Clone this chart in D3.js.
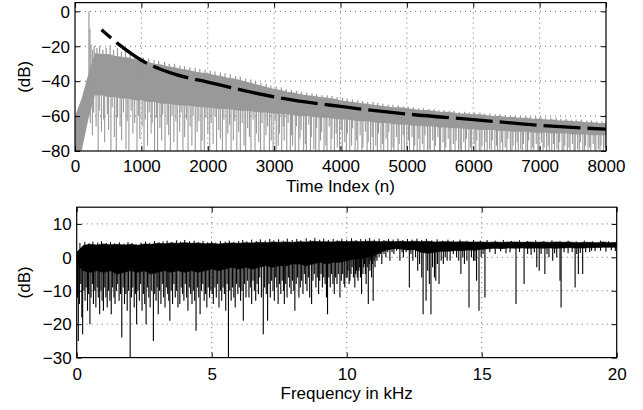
<!DOCTYPE html>
<html lang="en">
<head>
<meta charset="utf-8">
<title>Impulse response and frequency response</title>
<style>
  body { margin: 0; background: #fff; }
  svg { display: block; background: #fff; font-family: "Liberation Sans", Arial, Helvetica, sans-serif; }
  .grid line { stroke: #6a6a6a; stroke-width: 1; stroke-dasharray: 1,4; }
  .axis line { stroke: #000; stroke-width: 1; }
  .axis text { font-size: 17px; fill: #000; }
  .lbl { font-size: 17px; fill: #000; }
</style>
</head>
<body>
<script src="https://d3js.org/d3.v7.min.js"></script>
<script>
// ---------- top panel: decaying response, dB vs time index ----------
const timeStep = 100;   // samples between entries of timeHi / timeLo
// upper edge of the gray trace
const timeHi = [
  -60, -50, -36, -24, -24.5, -24.5, -25.5, -26, -26.5, -27.5,
  -28.5, -29, -30, -30.5, -31.5, -32, -33, -33.5, -34.5, -35,
  -35.5, -36.5, -37, -38, -38.5, -39.5, -40.5, -41.5, -42.5, -43.5,
  -44.5, -45, -46, -46.5, -47.5, -48, -48.5, -49, -49.5, -50,
  -51, -51.5, -52, -52.5, -53, -53.5, -54, -54.5, -55, -55,
  -55.5, -56, -56.5, -56.5, -57, -57.5, -57.5, -58, -58.5, -58.5,
  -59, -59, -59.5, -60, -60, -60.5, -60.5, -61, -61, -61.5,
  -61.5, -62, -62, -62.5, -62.5, -63, -63, -63.5, -63.5, -64,
  -64
];
// lower edge of the solid part of the gray trace
const timeLo = [
  -80, -80, -62, -48, -48, -49, -49, -50, -50, -51,
  -51, -52, -52, -53, -53, -53.5, -54, -54, -54.5, -55,
  -55, -55.5, -56, -56, -56.5, -57, -57, -57.5, -58, -58,
  -58.5, -59, -59, -59.5, -60, -60, -60.5, -61, -61, -61.5,
  -62, -62, -62.5, -63, -63, -63.5, -64, -64, -64.5, -65,
  -65, -65.5, -65.5, -66, -66, -66.5, -66.5, -67, -67, -67.5,
  -67.5, -68, -68, -68, -68.5, -68.5, -69, -69, -69, -69.5,
  -69.5, -69.5, -70, -70, -70, -70.5, -70.5, -70.5, -71, -71,
  -71
];
// single samples sticking out above the trace [n, dB]
const timePeaks = [
  [210, 0], [225, -10], [240, -19], [265, -22], [290, -20], [330, -21], [370, -20],
  [420, -22], [470, -21], [530, -19.5], [580, -22], [640, -21], [700, -23], [760, -22.5],
  [830, -24], [900, -25], [980, -26.5],
  [1030, -26.5], [1110, -27], [1190, -28], [1260, -28.5], [1350, -29], [1420, -30], [1500, -30],
  [1580, -31], [1650, -31.5], [1730, -32], [1810, -32.5], [1880, -33], [1960, -33.5], [2040, -34],
  [2110, -34.5], [2190, -35], [2260, -35.5], [2340, -36], [2420, -37], [2490, -37.5], [2570, -38.5],
  [2650, -39], [2720, -40], [2800, -41], [2880, -41.5], [2950, -42.5], [3030, -43], [3110, -43.5],
  [3180, -44.5], [3260, -45], [3340, -45.5], [3410, -46], [3490, -46.5], [3570, -47], [3640, -47.5],
  [3720, -48], [3800, -48], [3870, -48.5], [3950, -49], [4030, -49.5], [4100, -50], [4180, -50.5],
  [4260, -51], [4330, -51.5], [4410, -52], [4490, -52], [4560, -52.5], [4640, -53], [4720, -53.5],
  [4790, -53.5], [4870, -54], [4950, -54.5], [5020, -54.5], [5100, -55], [5180, -55.5], [5250, -55.5],
  [5330, -56], [5410, -56], [5480, -56.5], [5560, -56.5], [5640, -57], [5710, -57], [5790, -57.5],
  [5870, -57.5], [5940, -58], [6020, -58], [6100, -58], [6170, -58.5], [6250, -58.5], [6330, -59],
  [6400, -59], [6480, -59.5], [6560, -59.5], [6630, -60], [6710, -60], [6790, -60], [6860, -60.5],
  [6940, -60.5], [7020, -60.5], [7090, -61], [7170, -61], [7250, -61], [7320, -61.5], [7400, -61.5],
  [7480, -62], [7550, -62], [7630, -62], [7710, -62.5], [7780, -62.5], [7860, -63], [7940, -63]
];
// notches below the trace [n, dB]
const timeDips = [
  [230, -64], [262, -71], [281, -58], [318, -66], [349, -80], [366, -57], [398, -69], [431, -62],
  [447, -75], [488, -59], [506, -68], [541, -80], [560, -55], [593, -72], [622, -80], [641, -61],
  [679, -66], [702, -74], [731, -58], [768, -79], [787, -63], [812, -80], [846, -57], [871, -70],
  [899, -64], [934, -80], [958, -60], [976, -73], [1012, -66], [1040, -80], [1058, -62], [1093, -77],
  [1118, -58], [1147, -70], [1163, -64], [1199, -80], [1226, -61], [1244, -80], [1279, -67], [1305, -74],
  [1321, -59], [1356, -80], [1389, -65], [1411, -71], [1437, -80], [1462, -60], [1489, -75], [1520, -63],
  [1541, -80], [1577, -69], [1598, -58], [1626, -80], [1652, -72], [1681, -62], [1703, -80], [1735, -66],
  [1761, -77], [1779, -60], [1812, -80], [1840, -69], [1866, -63], [1897, -80], [1915, -74], [1948, -80],
  [1973, -61], [2001, -70], [2030, -80], [2052, -64], [2081, -76], [2110, -60], [2133, -80], [2165, -68],
  [2190, -73], [2221, -80], [2243, -62], [2276, -80], [2302, -70], [2329, -65], [2351, -80], [2385, -74],
  [2407, -63], [2438, -80], [2466, -69], [2491, -80], [2519, -64], [2547, -77], [2572, -80], [2601, -67],
  [2628, -72], [2651, -80], [2683, -62], [2712, -80], [2734, -70], [2768, -75], [2795, -80], [2818, -64],
  [2849, -80], [2877, -71], [2902, -66], [2930, -80], [2957, -74], [2985, -80],
  [3014, -63], [3031, -80], [3062, -77], [3080, -70], [3115, -80], [3139, -66], [3152, -74], [3190, -80],
  [3211, -64], [3245, -80], [3262, -71], [3279, -77], [3318, -80], [3336, -66], [3371, -80], [3390, -73],
  [3408, -68], [3444, -80], [3470, -76], [3486, -80], [3522, -65], [3547, -80], [3561, -72], [3598, -79],
  [3626, -80], [3641, -67], [3677, -80], [3699, -74], [3715, -69], [3752, -80], [3780, -77], [3796, -80],
  [3830, -66], [3856, -80], [3871, -73], [3909, -80], [3935, -70], [3952, -78], [3986, -80], [4011, -68],
  [4027, -80], [4064, -75], [4089, -80], [4104, -70], [4140, -80], [4167, -77], [4183, -67], [4220, -80],
  [4244, -74], [4260, -80], [4296, -71], [4323, -80], [4338, -78], [4375, -69], [4401, -80], [4417, -75],
  [4453, -80], [4478, -72], [4494, -80], [4531, -77], [4556, -80], [4572, -70], [4609, -80], [4634, -76],
  [4651, -80], [4687, -73], [4712, -80], [4728, -69], [4765, -80], [4791, -78], [4806, -80], [4843, -72],
  [4868, -80], [4884, -76], [4921, -80], [4946, -71], [4962, -80], [4999, -79], [5024, -74], [5040, -80],
  [5077, -72], [5102, -80], [5118, -77], [5155, -80], [5180, -73], [5196, -80], [5233, -76], [5258, -80],
  [5274, -71], [5311, -80], [5336, -79], [5352, -80], [5389, -74], [5414, -80], [5430, -77], [5467, -72],
  [5492, -80], [5508, -80], [5545, -75], [5570, -80], [5586, -78], [5623, -73], [5648, -80], [5664, -80],
  [5701, -76], [5726, -80], [5742, -74], [5779, -80], [5804, -79], [5820, -80], [5857, -75], [5882, -80],
  [5898, -73], [5935, -80], [5960, -78], [5976, -80], [6013, -76], [6038, -80], [6054, -74], [6091, -80],
  [6116, -80], [6132, -77], [6169, -80], [6194, -75], [6210, -80], [6247, -79], [6272, -80], [6288, -74],
  [6325, -80], [6350, -77], [6366, -80], [6403, -80], [6428, -75], [6444, -80], [6481, -78], [6506, -80],
  [6522, -73], [6559, -80], [6584, -80], [6600, -77], [6637, -80], [6662, -75], [6678, -80], [6715, -79],
  [6740, -80], [6756, -76], [6793, -80], [6818, -80], [6834, -74], [6871, -80], [6896, -78], [6912, -80],
  [6949, -76], [6974, -80], [6990, -80], [7027, -75], [7052, -80], [7068, -78], [7105, -80], [7130, -77],
  [7146, -80], [7183, -80], [7208, -76], [7224, -80], [7261, -79], [7286, -80], [7302, -75], [7339, -80],
  [7364, -80], [7380, -77], [7417, -80], [7442, -78], [7458, -80], [7495, -76], [7520, -80], [7536, -80],
  [7573, -79], [7598, -80], [7614, -75], [7651, -80], [7676, -80], [7692, -77], [7729, -80], [7754, -78],
  [7770, -80], [7807, -76], [7832, -80], [7848, -80], [7885, -79], [7910, -80], [7926, -77], [7963, -80],
  [7988, -78]
];
// dashed decay envelope
const envN  = [400, 680, 1000, 1500, 2000, 2500, 3000, 4000, 5000, 6000, 7000, 8000];
const envDb = [-10.5, -19.5, -28, -36, -40.5, -45, -49, -54.5, -58.8, -62, -65.3, -67.5];
const timeTicks = [0, 1000, 2000, 3000, 4000, 5000, 6000, 7000, 8000];
const timeDbTicks = [-80, -60, -40, -20, 0];

// ---------- bottom panel: magnitude response, dB vs kHz ----------
const freqStep = 0.25;  // kHz between entries of freqHi / freqLo
const freqHi = [
  1.5, 3.6, 3.9, 3.7, 4, 3.8, 3.9, 3.7, 3.9, 3.6,
  4, 3.9, 4.2, 4.1, 4.3, 4.2, 4.4, 4.2, 4.3, 4.1,
  4.2, 4, 4.2, 4.3, 4.2, 4.4, 4.3, 4.5, 4.4, 4.6,
  4.5, 4.6, 4.5, 4.7, 4.6, 4.8, 4.7, 4.7, 4.6, 4.8,
  4.7, 4.8, 4.7, 4.8, 4.8, 4.7, 4.8, 4.7, 4.8, 4.7,
  4.8, 4.7, 4.8, 4.6, 4.7, 4.7, 4.6, 4.7, 4.6, 4.6,
  4.6, 4.5, 4.6, 4.5, 4.6, 4.6, 4.5, 4.6, 4.5, 4.6,
  4.5, 4.6, 4.5, 4.6, 4.4, 4.5, 4.5, 4.4, 4.6, 4.4,
  4.5
];
const freqLo = [
  -2, -4, -4.5, -4, -4.5, -4, -5, -4.5, -4, -4.5,
  -4, -5, -4.5, -4, -4.5, -4, -4.5, -4, -4.5, -4,
  -3.5, -4, -3.5, -3, -3.5, -3, -3.5, -3, -2.5, -3,
  -2.5, -2.5, -2, -2, -2.5, -2, -1.5, -2, -1.5, -1.5,
  -1, -0.5, -0.5, 0, 0.5, 1.5, 2.2, 2.6, 2.5, 2.2,
  2.3, 1.5, 1.2, 1.5, 1.8, 1.8, 2, 2, 2.2, 2.1,
  2.4, 2.6, 2.7, 2.6, 2.8, 2.7, 2.8, 2.7, 2.8, 2.7,
  2.8, 2.7, 2.8, 2.9, 2.8, 2.8, 2.9, 2.9, 3, 3,
  3
];
// small spikes above the band [kHz, dB]
const freqPeaks = [
  [0.12, 4.3], [0.3, 4.6], [0.45, 4.2], [0.6, 4.7], [0.78, 4.4], [0.92, 4.8], [1.1, 4.3], [1.25, 4.6],
  [1.4, 4.2], [1.58, 4.5], [1.75, 4.1], [1.9, 4.6], [2.05, 4.3], [2.2, 4], [2.38, 4.4], [2.55, 4.7],
  [2.7, 4.3], [2.88, 4.9], [3.05, 4.5], [3.2, 4.8], [3.35, 5], [3.52, 4.6], [3.7, 5.1], [3.85, 4.7],
  [4, 5.2], [4.18, 4.8], [4.35, 5], [4.5, 4.6], [4.68, 4.9], [4.85, 4.5], [5, 4.8], [5.15, 4.4],
  [5.32, 4.9], [5.5, 4.7], [5.65, 5], [5.82, 4.6], [6, 4.9], [6.15, 5.2], [6.3, 4.8], [6.48, 5.3],
  [6.65, 4.9], [6.8, 5.4], [6.98, 5], [7.15, 5.5], [7.3, 5.1], [7.48, 5.4], [7.65, 5], [7.8, 5.6],
  [7.98, 5.2], [8.15, 5.5], [8.3, 5.1], [8.5, 5.7], [8.65, 5.2], [8.82, 5.8], [9, 5.3], [9.15, 5.6],
  [9.32, 5.2], [9.5, 5.5], [9.65, 5.1], [9.82, 5.6], [10, 5.3], [10.18, 5.7], [10.35, 5.2], [10.52, 5.5],
  [10.7, 5.4], [10.85, 5.8], [11.02, 5.3], [11.2, 5.6], [11.38, 5.2], [11.55, 5.5], [11.72, 5.3], [11.9, 5.6],
  [12.08, 5.2], [12.25, 5.5], [12.42, 5.3], [12.6, 5.6], [12.78, 5.2], [12.95, 5.5], [13.15, 5.1], [13.35, 5.4],
  [13.55, 5], [13.75, 5.3], [13.95, 5.1], [14.2, 5.3], [14.45, 5], [14.7, 5.2], [14.95, 5], [15.2, 5.2],
  [15.5, 5], [15.8, 5.2], [16.1, 4.9], [16.4, 5.1], [16.7, 4.9], [17, 5.1], [17.3, 4.9], [17.6, 5.1],
  [17.9, 4.9], [18.2, 5], [18.5, 4.8], [18.8, 5], [19.1, 4.8], [19.4, 5], [19.7, 4.8]
];
// notches [kHz, dB]
const freqDips = [
  [0.03, -12], [0.06, -25], [0.1, -14], [0.15, -8], [0.19, -18], [0.22, -23], [0.27, -10], [0.31, -13],
  [0.35, -9], [0.4, -16], [0.44, -11], [0.49, -20], [0.53, -12], [0.58, -8], [0.62, -14], [0.67, -10],
  [0.71, -15], [0.76, -9], [0.8, -12], [0.85, -17], [0.9, -10], [0.94, -13], [0.99, -16],
  [1.04, -9], [1.08, -12], [1.13, -15], [1.18, -10], [1.23, -13], [1.28, -17], [1.33, -9], [1.38, -12],
  [1.42, -14], [1.47, -10], [1.52, -8], [1.57, -13], [1.62, -11], [1.67, -24], [1.72, -9], [1.77, -14],
  [1.82, -11], [1.87, -16], [1.92, -10], [1.98, -30],
  [2.03, -12], [2.08, -9], [2.13, -15], [2.18, -11], [2.22, -20], [2.27, -10], [2.32, -13], [2.37, -8],
  [2.42, -16], [2.47, -11], [2.52, -14], [2.57, -20], [2.62, -9], [2.67, -12], [2.72, -15], [2.78, -10],
  [2.84, -25], [2.89, -11], [2.94, -13], [2.98, -9],
  [3.02, -17], [3.07, -10], [3.12, -14], [3.17, -8], [3.22, -12], [3.27, -15], [3.32, -9], [3.37, -11],
  [3.41, -13], [3.45, -19], [3.5, -10], [3.55, -14], [3.6, -8], [3.65, -12], [3.7, -10], [3.75, -15],
  [3.82, -14], [3.87, -9], [3.92, -11], [3.97, -13],
  [4.02, -8], [4.07, -12], [4.12, -16], [4.17, -9], [4.22, -11], [4.27, -14], [4.32, -10], [4.37, -13],
  [4.42, -22], [4.47, -9], [4.52, -12], [4.57, -17], [4.62, -10], [4.67, -8], [4.72, -13], [4.77, -11],
  [4.82, -15], [4.87, -9], [4.92, -12], [4.97, -10],
  [5.02, -11], [5.06, -14], [5.12, -9], [5.17, -12], [5.22, -8], [5.27, -15], [5.32, -10], [5.37, -13],
  [5.42, -9], [5.47, -11], [5.52, -16], [5.57, -8], [5.62, -30], [5.67, -10], [5.72, -13], [5.77, -9],
  [5.82, -12], [5.87, -15], [5.92, -8], [5.97, -11],
  [6.02, -9], [6.07, -13], [6.12, -10], [6.17, -19], [6.22, -8], [6.27, -12], [6.32, -7], [6.38, -12],
  [6.43, -9], [6.48, -14], [6.53, -7], [6.58, -10], [6.63, -13], [6.68, -8], [6.73, -11], [6.78, -6],
  [6.84, -12], [6.91, -23], [6.96, -9], [7.02, -11],
  [7.07, -19], [7.12, -8], [7.17, -12], [7.22, -7], [7.27, -10], [7.32, -13], [7.37, -6], [7.41, -9],
  [7.46, -14], [7.51, -8], [7.56, -11], [7.61, -7], [7.66, -10], [7.69, -14], [7.74, -8], [7.79, -12],
  [7.84, -6], [7.89, -9], [7.94, -11], [7.99, -7],
  [8.04, -10], [8.08, -16], [8.13, -8], [8.18, -6], [8.23, -12], [8.28, -9], [8.33, -7], [8.38, -11],
  [8.43, -5], [8.48, -8], [8.53, -10], [8.58, -6], [8.63, -12], [8.7, -14], [8.75, -7], [8.8, -5],
  [8.86, -9], [8.91, -6], [8.96, -11], [9, -7],
  [9.05, -5], [9.1, -9], [9.15, -6], [9.2, -8], [9.25, -12], [9.29, -17], [9.34, -6], [9.39, -9],
  [9.44, -5], [9.49, -8], [9.54, -11], [9.59, -6], [9.64, -8], [9.69, -5], [9.75, -12], [9.8, -7],
  [9.85, -5], [9.9, -8], [9.93, -9], [9.98, -6],
  [10.02, -6], [10.05, -4], [10.09, -8], [10.12, -7], [10.16, -5], [10.2, -3], [10.25, -6], [10.3, -9],
  [10.33, -5], [10.36, -4], [10.39, -6], [10.42, -7], [10.45, -4], [10.48, -3], [10.51, -6], [10.55, -11],
  [10.6, -5], [10.63, -3], [10.66, -2], [10.69, -5], [10.72, -8], [10.76, -3], [10.8, -14], [10.83, -2],
  [10.86, -4], [10.89, -1], [10.92, -6], [10.95, -2], [10.98, -13], [11.02, -1], [11.05, -3], [11.08, 0],
  [11.12, -1], [11.16, 1], [11.2, 0], [11.25, 1], [11.3, -2], [11.38, 1], [11.45, 0], [11.52, 1.5],
  [11.6, -1], [11.68, 1.5], [11.75, 1], [11.85, 2], [11.97, -1], [12.05, 1.5],
  [12.1, 0], [12.2, 1.5], [12.32, -9], [12.38, 1], [12.45, -1], [12.55, 0], [12.63, -4], [12.7, -2],
  [12.78, -6], [12.83, -17],
  [12.94, -13], [13, -4], [13.06, -8], [13.12, -17], [13.18, -3], [13.25, -6], [13.3, -7], [13.36, -2],
  [13.42, -8], [13.5, -1], [13.58, -2], [13.65, 0], [13.72, -1], [13.83, -1], [13.95, 1], [14.07, 0],
  [14.15, -1], [14.23, -5], [14.3, 0], [14.36, -2], [14.45, -1], [14.53, -15], [14.62, 0], [14.7, -1],
  [14.75, -1], [14.81, -7], [14.9, -16], [14.98, 0], [15.05, 1], [15.12, -12],
  [15.3, 1.5], [15.5, 1], [15.7, 1.8], [15.9, 1.2], [16.05, 1.5], [16.27, -14], [16.4, 1.6], [16.57, -8],
  [16.7, 1], [16.83, 0.7], [16.95, 1.5], [17.04, -3], [17.13, -4], [17.2, 1], [17.34, -5], [17.42, 1],
  [17.49, 0], [17.63, -1], [17.7, 1.2], [17.78, 0], [17.9, -7], [17.94, -15], [18.05, 1.5], [18.2, 1.2],
  [18.35, 1.6], [18.46, -9], [18.52, 1], [18.58, -5], [18.65, 1.3], [18.74, -5], [18.85, 1.5], [19, 1.6],
  [19.07, 2], [19.2, 1.8], [19.4, 2], [19.6, 1.7], [19.8, 2.1], [19.95, 1.9]
];
const freqTicks = [0, 5, 10, 15, 20];
const freqDbTicks = [-30, -20, -10, 0, 10];

// ---------- layout ----------
const W = 643, H = 410;
const svg = d3.select("body").append("svg").attr("width", W).attr("height", H);

const topBox = { l: 75, r: 606, t: 2.6, b: 151 };
const botBox = { l: 76.7, r: 616.7, t: 207.2, b: 357.6 };

const xT = d3.scaleLinear().domain([0, 8000]).range([topBox.l, topBox.r]);
const yT = d3.scaleLinear().domain([-80, 5]).range([topBox.b, topBox.t]);
const xF = d3.scaleLinear().domain([0, 20]).range([botBox.l, botBox.r]);
const yF = d3.scaleLinear().domain([-30, 15]).range([botBox.b, botBox.t]);

function grid(box, x, y, xt, yt) {
  const g = svg.append("g").attr("class", "grid");
  g.selectAll("line.gx").data(xt.slice(1, -1)).join("line").attr("class", "gx")
    .attr("x1", d => x(d)).attr("x2", d => x(d)).attr("y1", box.t).attr("y2", box.b);
  g.selectAll("line.gy").data(yt.filter(v => y(v) > box.t + 1 && y(v) < box.b - 1)).join("line").attr("class", "gy")
    .attr("y1", d => y(d)).attr("y2", d => y(d)).attr("x1", box.l).attr("x2", box.r);
}

function frame(box, x, y, xt, yt, padX) {
  const fmt = d3.format("d");
  const b = svg.append("g").attr("class", "axis").attr("transform", `translate(0,${box.b})`)
    .call(d3.axisBottom(x).tickValues(xt).tickFormat(fmt).tickSizeInner(-5).tickSizeOuter(0).tickPadding(padX));
  const t = svg.append("g").attr("class", "axis").attr("transform", `translate(0,${box.t})`)
    .call(d3.axisTop(x).tickValues(xt).tickFormat("").tickSizeInner(-5).tickSizeOuter(0));
  const l = svg.append("g").attr("class", "axis").attr("transform", `translate(${box.l},0)`)
    .call(d3.axisLeft(y).tickValues(yt).tickFormat(fmt).tickSizeInner(-5).tickSizeOuter(0).tickPadding(5));
  const r = svg.append("g").attr("class", "axis").attr("transform", `translate(${box.r},0)`)
    .call(d3.axisRight(y).tickValues(yt).tickFormat("").tickSizeInner(-5).tickSizeOuter(0));
  [b, t, l, r].forEach(a => a.select(".domain").remove());
  l.selectAll("text").attr("dy", "0.34em");
  svg.append("rect").attr("x", box.l).attr("y", box.t)
    .attr("width", box.r - box.l).attr("height", box.b - box.t)
    .attr("fill", "none").attr("stroke", "#000").attr("stroke-width", 1.2);
}

// clip paths
const defs = svg.append("defs");
[["clipT", topBox], ["clipF", botBox]].forEach(([id, bx]) => {
  defs.append("clipPath").attr("id", id).append("rect")
    .attr("x", bx.l).attr("y", bx.t).attr("width", bx.r - bx.l).attr("height", bx.b - bx.t);
});

// vertical strokes from inside a band out to the given values
function strokes(g, data, x, y, mid, color, w) {
  g.append("g").selectAll("line").data(data).join("line")
    .attr("x1", d => x(d[0])).attr("x2", d => x(d[0]))
    .attr("y1", d => y(mid(d[0]))).attr("y2", d => y(d[1]))
    .attr("stroke", color).attr("stroke-width", w);
}

// ---------- top panel ----------
grid(topBox, xT, yT, timeTicks, timeDbTicks);
const gT = svg.append("g").attr("clip-path", "url(#clipT)");
const gray = "#999";

const tMid = n => { const k = Math.round(n / timeStep); return (timeHi[k] + timeLo[k]) / 2; };

strokes(gT, timeDips, xT, yT, tMid, gray, 1.1);
gT.append("path")
  .datum(timeHi.map((v, i) => [i * timeStep, v, timeLo[i]]))
  .attr("fill", gray)
  .attr("d", d3.area().x(d => xT(d[0])).y0(d => yT(d[2])).y1(d => yT(d[1])));
strokes(gT, timePeaks, xT, yT, tMid, gray, 1.2);

const env = envN.map((n, i) => [n, envDb[i]]);
const envPath = gT.append("path")
  .datum(env)
  .attr("fill", "none").attr("stroke", "#000").attr("stroke-width", 3.3)
  .attr("stroke-dasharray", "37,7")
  .attr("d", d3.line().x(d => xT(d[0])).y(d => yT(d[1])).curve(d3.curveMonotoneX));
{
  // line the dash gaps up with the reference (a gap starts at n = 3000)
  const node = envPath.node();
  let lo = 0, hi = node.getTotalLength();
  for (let k = 0; k < 30; k++) {
    const mid = (lo + hi) / 2;
    if (node.getPointAtLength(mid).x < xT(3000)) lo = mid; else hi = mid;
  }
  envPath.attr("stroke-dashoffset", ((37 - lo) % 44 + 44) % 44);
}

frame(topBox, xT, yT, timeTicks, timeDbTicks, 8.5);

svg.append("text").attr("class", "lbl").attr("text-anchor", "middle")
  .attr("x", (topBox.l + topBox.r) / 2).attr("y", 192).text("Time Index (n)");
svg.append("text").attr("class", "lbl").attr("text-anchor", "middle")
  .attr("transform", `translate(30,${(topBox.t + topBox.b) / 2}) rotate(-90)`).text("(dB)");

// ---------- bottom panel ----------
grid(botBox, xF, yF, freqTicks, freqDbTicks);
const gF = svg.append("g").attr("clip-path", "url(#clipF)");

const fMid = f => { const k = Math.round(f / freqStep); return (freqHi[k] + freqLo[k]) / 2; };

strokes(gF, freqDips, xF, yF, fMid, "#000", 1.1);
gF.append("path")
  .datum(freqHi.map((v, i) => [i * freqStep, v, freqLo[i]]))
  .attr("fill", "#000").attr("stroke", "#000").attr("stroke-width", 0.6)
  .attr("d", d3.area().x(d => xF(d[0])).y0(d => yF(d[2])).y1(d => yF(d[1])));
strokes(gF, freqPeaks, xF, yF, fMid, "#000", 1);

frame(botBox, xF, yF, freqTicks, freqDbTicks, 10.5);

svg.append("text").attr("class", "lbl").attr("text-anchor", "middle")
  .attr("x", (botBox.l + botBox.r) / 2).attr("y", 399).text("Frequency in kHz");
svg.append("text").attr("class", "lbl").attr("text-anchor", "middle")
  .attr("transform", `translate(30,${(botBox.t + botBox.b) / 2}) rotate(-90)`).text("(dB)");
</script>
</body>
</html>
